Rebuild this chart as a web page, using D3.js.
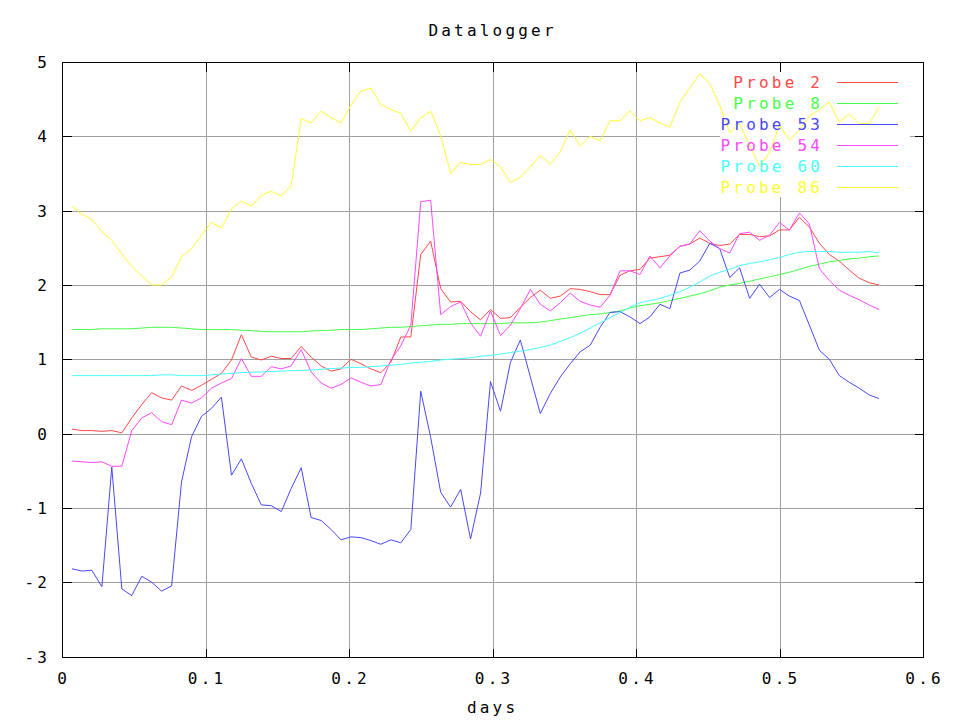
<!DOCTYPE html>
<html>
<head>
<meta charset="utf-8">
<script src="https://cdn.jsdelivr.net/npm/d3@7"></script>
<style>
  html, body { margin: 0; padding: 0; background: #fff; }
  svg { display: block; }
  text { font-family: "DejaVu Sans Mono", "Liberation Mono", monospace; font-size: 16px; letter-spacing: 3.2px; }
</style>
</head>
<body>
<svg id="chart" width="960" height="720"></svg>
<script>
const title = "Datalogger";
const xLabel = "days";
const xTicks = [0, 0.1, 0.2, 0.3, 0.4, 0.5, 0.6];
const yTicks = [-3, -2, -1, 0, 1, 2, 3, 4, 5];

const days = [
  0.0069,0.0139,0.0208,0.0278,0.0347,0.0417,0.0486,0.0556,0.0625,0.0694,
  0.0764,0.0833,0.0903,0.0972,0.1042,0.1111,0.1181,0.1250,0.1319,0.1389,
  0.1458,0.1528,0.1597,0.1667,0.1736,0.1806,0.1875,0.1944,0.2014,0.2083,
  0.2153,0.2222,0.2292,0.2361,0.2431,0.2500,0.2569,0.2639,0.2708,0.2778,
  0.2847,0.2917,0.2986,0.3056,0.3125,0.3194,0.3264,0.3333,0.3403,0.3472,
  0.3542,0.3611,0.3681,0.3750,0.3819,0.3889,0.3958,0.4028,0.4097,0.4167,
  0.4236,0.4306,0.4375,0.4444,0.4514,0.4583,0.4653,0.4722,0.4792,0.4861,
  0.4931,0.5000,0.5069,0.5139,0.5208,0.5278,0.5347,0.5417,0.5486,0.5556,
  0.5625,0.5694
];

const probe2 = [
  0.06,0.04,0.04,0.03,0.04,0.01,0.21,0.39,0.55,0.48,
  0.45,0.64,0.58,0.65,0.73,0.81,0.99,1.33,1.03,0.99,
  1.04,1.01,1.01,1.17,1.03,0.91,0.84,0.87,1.00,0.94,
  0.87,0.82,0.96,1.30,1.30,2.41,2.59,1.95,1.77,1.78,
  1.64,1.53,1.67,1.55,1.56,1.70,1.83,1.93,1.82,1.85,
  1.95,1.94,1.91,1.87,1.87,2.13,2.19,2.21,2.36,2.38,
  2.40,2.52,2.55,2.63,2.56,2.53,2.55,2.68,2.68,2.65,
  2.66,2.74,2.74,2.91,2.78,2.56,2.41,2.32,2.20,2.09,
  2.03,2.00
];
const probe8 = [
  1.40,1.40,1.40,1.41,1.41,1.41,1.41,1.42,1.43,1.43,
  1.43,1.42,1.41,1.40,1.40,1.40,1.40,1.39,1.385,1.375,
  1.37,1.37,1.37,1.37,1.38,1.385,1.39,1.40,1.40,1.40,
  1.41,1.42,1.43,1.43,1.44,1.45,1.46,1.47,1.47,1.48,
  1.48,1.48,1.48,1.48,1.49,1.49,1.49,1.50,1.52,1.54,
  1.56,1.58,1.60,1.61,1.63,1.65,1.69,1.72,1.74,1.76,
  1.79,1.82,1.85,1.88,1.92,1.97,2.00,2.02,2.05,2.08,
  2.11,2.14,2.17,2.21,2.25,2.28,2.31,2.33,2.35,2.36,
  2.38,2.39
];
const probe53 = [
  -1.82,-1.85,-1.84,-2.06,-0.45,-2.09,-2.18,-1.92,-2.00,-2.12,
  -2.05,-0.65,-0.04,0.23,0.34,0.49,-0.56,-0.34,-0.67,-0.96,
  -0.97,-1.05,-0.74,-0.46,-1.13,-1.17,-1.29,-1.43,-1.39,-1.40,
  -1.44,-1.49,-1.43,-1.47,-1.29,0.57,-0.05,-0.79,-0.99,-0.75,
  -1.42,-0.80,0.70,0.30,0.96,1.26,0.76,0.27,0.54,0.76,
  0.94,1.10,1.19,1.43,1.63,1.64,1.57,1.48,1.57,1.74,
  1.68,2.16,2.20,2.32,2.56,2.49,2.10,2.23,1.82,2.01,
  1.83,1.94,1.85,1.79,1.46,1.12,1.00,0.78,0.69,0.61,
  0.52,0.47
];
const probe54 = [
  -0.37,-0.38,-0.39,-0.38,-0.44,-0.44,0.04,0.21,0.28,0.16,
  0.12,0.45,0.41,0.48,0.61,0.68,0.74,1.01,0.77,0.77,
  0.90,0.87,0.91,1.13,0.83,0.68,0.61,0.66,0.75,0.69,
  0.64,0.66,0.99,1.18,1.46,3.12,3.14,1.60,1.71,1.77,
  1.49,1.31,1.65,1.32,1.46,1.68,1.94,1.74,1.65,1.76,
  1.89,1.78,1.73,1.70,1.86,2.19,2.19,2.14,2.39,2.23,
  2.39,2.52,2.55,2.73,2.59,2.49,2.43,2.69,2.71,2.60,
  2.67,2.84,2.74,2.97,2.82,2.22,2.06,1.93,1.86,1.80,
  1.73,1.67
];
const probe60 = [
  0.78,0.78,0.78,0.78,0.78,0.78,0.78,0.78,0.78,0.79,
  0.79,0.78,0.78,0.78,0.79,0.80,0.81,0.82,0.825,0.83,
  0.835,0.84,0.845,0.85,0.855,0.865,0.875,0.88,0.89,0.89,
  0.90,0.91,0.92,0.93,0.95,0.96,0.97,0.99,1.00,1.01,
  1.02,1.04,1.05,1.07,1.09,1.11,1.13,1.16,1.19,1.24,
  1.29,1.35,1.42,1.49,1.56,1.63,1.70,1.76,1.79,1.82,
  1.86,1.91,1.97,2.04,2.12,2.17,2.21,2.26,2.29,2.31,
  2.34,2.37,2.41,2.44,2.45,2.45,2.45,2.44,2.44,2.44,
  2.45,2.43
];
const probe86 = [
  3.06,2.95,2.88,2.72,2.60,2.42,2.25,2.12,2.00,2.00,
  2.11,2.38,2.49,2.67,2.84,2.77,3.02,3.13,3.06,3.21,
  3.26,3.20,3.33,4.24,4.18,4.34,4.25,4.18,4.42,4.61,
  4.65,4.43,4.36,4.31,4.07,4.25,4.34,4.01,3.50,3.65,
  3.62,3.62,3.69,3.59,3.38,3.45,3.59,3.74,3.62,3.79,
  4.09,3.87,4.00,3.94,4.21,4.21,4.34,4.21,4.25,4.18,
  4.12,4.46,4.65,4.84,4.71,4.42,4.05,4.17,3.88,3.60,
  3.78,4.15,3.95,4.08,4.27,4.36,4.46,4.19,4.30,4.17,
  4.17,4.39
];

const seriesNames = ["Probe 2", "Probe 8", "Probe 53", "Probe 54", "Probe 60", "Probe 86"];
const seriesValues = [probe2, probe8, probe53, probe54, probe60, probe86];
const seriesColors = ["#ff4848", "#48ff48", "#4848ff", "#ff48ff", "#48ffff", "#ffff30"];

// layout
const plotLeft = 62, plotRight = 923, plotTop = 62, plotBottom = 656.5;
const LS = 3.2; // letter-spacing compensation

const svg = d3.select("#chart");
const x = d3.scaleLinear().domain([0, 0.6]).range([plotLeft, plotRight]);
const y = d3.scaleLinear().domain([-3, 5]).range([plotBottom, plotTop]);

const px = v => Math.round(v) + 0.5;

// grid
const grid = svg.append("g").attr("shape-rendering", "crispEdges");
grid.selectAll("line.gx").data(xTicks.slice(1, -1)).enter().append("line")
  .attr("x1", d => px(x(d))).attr("x2", d => px(x(d)))
  .attr("y1", plotTop).attr("y2", plotBottom)
  .attr("stroke", "#a0a0a0").attr("stroke-width", 1);
grid.selectAll("line.gy").data(yTicks.slice(1, -1)).enter().append("line")
  .attr("x1", plotLeft).attr("x2", plotRight)
  .attr("y1", d => px(y(d))).attr("y2", d => px(y(d)))
  .attr("stroke", "#a0a0a0").attr("stroke-width", 1);

// legend background (the grid is cleared behind the key)
const legendX0 = 720, legendX1 = 910, legendY0 = 72, legendY1 = 197;
svg.append("rect")
  .attr("x", legendX0).attr("y", legendY0)
  .attr("width", legendX1 - legendX0).attr("height", legendY1 - legendY0)
  .attr("fill", "#fff");

// border and ticks
const axes = svg.append("g").attr("shape-rendering", "crispEdges").attr("stroke", "#000").attr("stroke-width", 1);
axes.append("rect").attr("x", px(plotLeft)).attr("y", px(plotTop))
  .attr("width", Math.round(plotRight) - Math.round(plotLeft)).attr("height", Math.round(plotBottom) - Math.round(plotTop))
  .attr("fill", "none");
const TL = 9;
xTicks.forEach(t => {
  const xx = px(x(t));
  axes.append("line").attr("x1", xx).attr("x2", xx).attr("y1", px(plotBottom)).attr("y2", px(plotBottom) - TL);
  axes.append("line").attr("x1", xx).attr("x2", xx).attr("y1", px(plotTop)).attr("y2", px(plotTop) + TL);
});
yTicks.forEach(t => {
  const yy = px(y(t));
  axes.append("line").attr("x1", px(plotLeft)).attr("x2", px(plotLeft) + TL).attr("y1", yy).attr("y2", yy);
  axes.append("line").attr("x1", px(plotRight)).attr("x2", px(plotRight) - TL).attr("y1", yy).attr("y2", yy);
});

// tick labels
const fmtX = d => d === 0 ? "0" : d3.format(".1f")(d);
svg.append("g").selectAll("text").data(xTicks).enter().append("text")
  .attr("x", d => x(d) + LS / 2).attr("y", 684)
  .attr("text-anchor", "middle").attr("fill", "#000")
  .text(fmtX);
svg.append("g").selectAll("text").data(yTicks).enter().append("text")
  .attr("x", 47 + LS).attr("y", d => y(d) + 6)
  .attr("text-anchor", "end").attr("fill", "#000")
  .text(d => d);

// title and axis label
svg.append("text").attr("x", 491 + LS / 2).attr("y", 36).attr("text-anchor", "middle").attr("fill", "#000").text(title);
svg.append("text").attr("x", 491 + LS / 2).attr("y", 713).attr("text-anchor", "middle").attr("fill", "#000").text(xLabel);

// data lines
const line = d3.line().x(d => x(d[0])).y(d => y(d[1]));
const lines = svg.append("g").attr("fill", "none").attr("stroke-width", 1);
seriesValues.forEach((vals, k) => {
  const pts = days.map((d, i) => [d, vals[i]]);
  lines.append("path").datum(pts).attr("d", line).attr("stroke", seriesColors[k]);
});

// legend
const legend = svg.append("g");
seriesNames.forEach((name, k) => {
  const ry = 81.5 + k * 21;
  legend.append("text").attr("x", 820 + LS).attr("y", ry + 6)
    .attr("text-anchor", "end").attr("fill", seriesColors[k]).text(name);
  legend.append("line").attr("x1", 837).attr("x2", 898).attr("y1", Math.round(ry) + 0.5).attr("y2", Math.round(ry) + 0.5)
    .attr("stroke", seriesColors[k]).attr("stroke-width", 1).attr("shape-rendering", "crispEdges");
});
</script>
</body>
</html>
